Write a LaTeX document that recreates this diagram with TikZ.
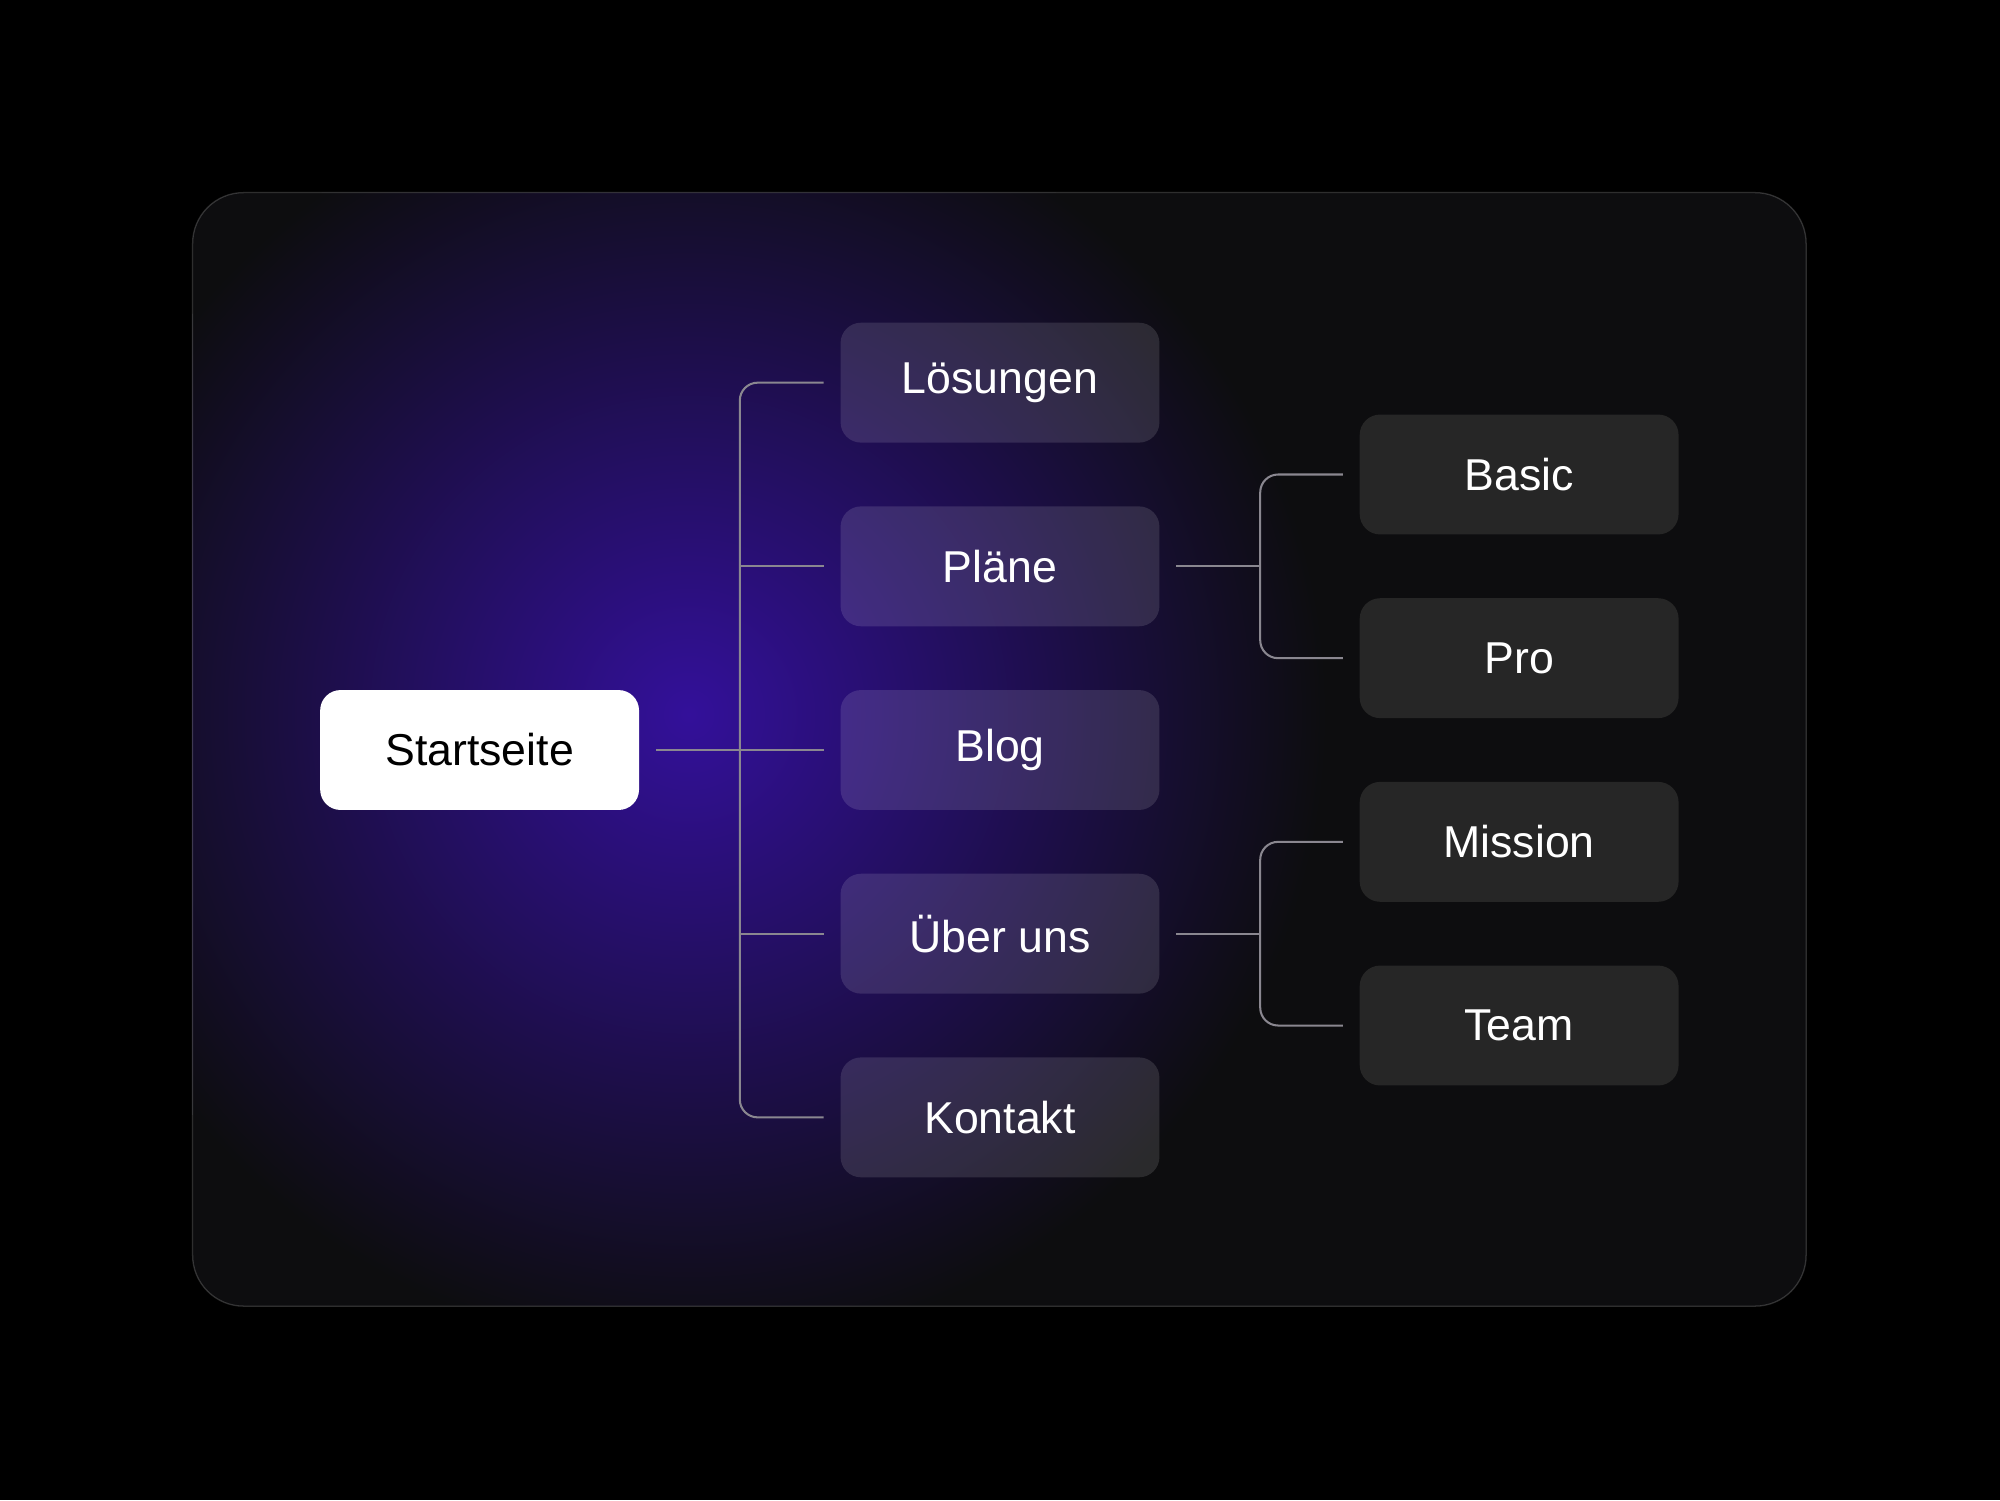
\documentclass[tikz,border=0pt]{standalone}
\usepackage{fontspec}
\setmainfont{Liberation Sans}
\usetikzlibrary{calc}
\definecolor{card}{HTML}{0D0D0F}
\definecolor{glow}{HTML}{33109A}
\definecolor{conn}{HTML}{8A8790}
\definecolor{rbox}{HTML}{262626}
\begin{document}
\begin{tikzpicture}[x=1pt,y=-1pt,
  mbox/.style={rounded corners=16pt,minimum width=250pt,minimum height=94pt,fill=white,fill opacity=0.12,text opacity=1,text=white,font=\fontsize{35}{38}\selectfont,inner sep=0pt},
  rbx/.style={rounded corners=16pt,minimum width=250pt,minimum height=94pt,fill=rbox,text=white,font=\fontsize{35}{38}\selectfont,inner sep=0pt},
  cn/.style={draw=conn,line width=1.6pt}]
\fill[black] (0,0) rectangle (1568,1176);
\begin{scope}
\clip[rounded corners=40pt] (151,151) rectangle (1416,1024);
\fill[card] (151,151) rectangle (1416,1024);
\shade[inner color=glow,outer color=card] (540,560) circle (500);
\end{scope}
\draw[rounded corners=40pt,draw=white,draw opacity=0.18,line width=1pt] (151,151) rectangle (1416,1024);
\node[rounded corners=16pt,minimum width=250pt,minimum height=94pt,fill=white,text=black,font=\fontsize{35}{38}\selectfont,inner sep=0pt] (s) at (376,588) {Startseite};
\node[mbox] (l) at (784,300) {Lösungen};
\node[mbox] (p) at (784,444) {Pläne};
\node[mbox] (b) at (784,588) {Blog};
\node[mbox] (u) at (784,732) {Über uns};
\node[mbox] (k) at (784,876) {Kontakt};
\node[rbx] (ba) at (1191,372) {Basic};
\node[rbx] (pr) at (1191,516) {Pro};
\node[rbx] (mi) at (1191,660) {Mission};
\node[rbx] (te) at (1191,804) {Team};
\coordinate (j1) at (580,588);
\coordinate (j2) at (988,444);
\coordinate (j3) at (988,732);
\draw[cn] ([xshift=13pt]s.east) -- (j1);
\draw[cn,rounded corners=14pt] ([xshift=-13pt]l.west) -- (l.west -| j1) -- (k.west -| j1) -- ([xshift=-13pt]k.west);
\draw[cn] (j1) -- ([xshift=-13pt]b.west);
\draw[cn] (p.west -| j1) -- ([xshift=-13pt]p.west);
\draw[cn] (u.west -| j1) -- ([xshift=-13pt]u.west);
\draw[cn] ([xshift=13pt]p.east) -- (j2);
\draw[cn,rounded corners=14pt] ([xshift=-13pt]ba.west) -- (ba.west -| j2) -- (pr.west -| j2) -- ([xshift=-13pt]pr.west);
\draw[cn] ([xshift=13pt]u.east) -- (j3);
\draw[cn,rounded corners=14pt] ([xshift=-13pt]mi.west) -- (mi.west -| j3) -- (te.west -| j3) -- ([xshift=-13pt]te.west);
\end{tikzpicture}
\end{document}
